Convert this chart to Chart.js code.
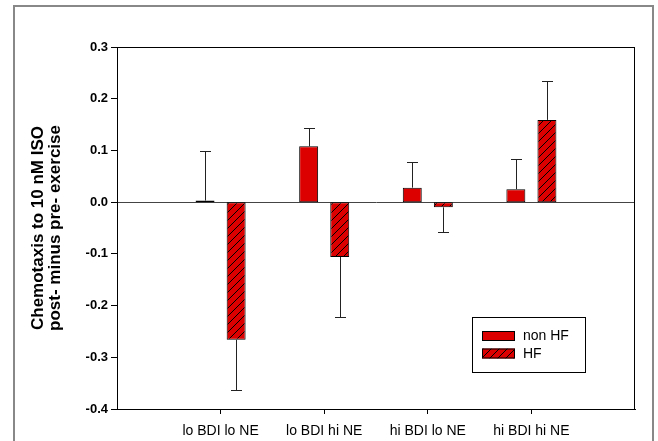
<!DOCTYPE html>
<html>
<head>
<meta charset="utf-8">
<script src="https://cdn.jsdelivr.net/npm/chart.js@4.4.1/dist/chart.umd.min.js"></script>
<style>
  body { margin: 0; background: #fff; }
  canvas { display: block; }
</style>
</head>
<body>
<canvas id="myChart" width="658" height="441"></canvas>
<script>
var groups = ["lo BDI lo NE", "lo BDI hi NE", "hi BDI lo NE", "hi BDI hi NE"];
var nonHF = [0.003, 0.108, 0.028, 0.025];
var nonHFErr = [0.095, 0.036, 0.049, 0.058];
var hf = [-0.266, -0.106, -0.010, 0.159];
var hfErr = [0.098, 0.117, 0.047, 0.076];
var seriesNames = ["non HF", "HF"];
var yTitle = ["Chemotaxis to 10 nM ISO", "post- minus pre- exercise"];

var red = "#dd0000";
var canvas = document.getElementById("myChart");

// diagonal hatch for the HF bars
function makeHatch() {
    var c = document.createElement("canvas");
    c.width = 8;
    c.height = 8;
    var g = c.getContext("2d");
    g.fillStyle = red;
    g.fillRect(0, 0, 8, 8);
    g.strokeStyle = "#000";
    g.lineWidth = 1;
    g.beginPath();
    g.moveTo(-1, 9); g.lineTo(9, -1);
    g.moveTo(-1, 1); g.lineTo(1, -1);
    g.moveTo(7, 9); g.lineTo(9, 7);
    g.stroke();
    return canvas.getContext("2d").createPattern(c, "repeat");
}
var hatch = makeHatch();

// one empty slot each side so the groups sit at 1/5 .. 4/5 of the axis
function pad(arr, fill) { return [fill].concat(arr, [fill]); }

var errorBars = {
    id: "errorBars",
    afterDatasetsDraw: function (chart) {
        var ctx = chart.ctx, y = chart.scales.y;
        [nonHFErr, hfErr].forEach(function (errs, d) {
            var meta = chart.getDatasetMeta(d);
            var vals = chart.data.datasets[d].data;
            errs.forEach(function (e, i) {
                var bar = meta.data[i + 1];
                var v = vals[i + 1];
                var y0 = y.getPixelForValue(v);
                var y1 = Math.round(y.getPixelForValue(v >= 0 ? v + e : v - e)) + 0.5;
                var x = Math.round(bar.x) + 0.5;
                ctx.save();
                ctx.strokeStyle = "#222";
                ctx.lineWidth = 1;
                ctx.beginPath();
                ctx.moveTo(x, y0);
                ctx.lineTo(x, y1);
                ctx.moveTo(x - 5.5, y1);
                ctx.lineTo(x + 5.5, y1);
                ctx.stroke();
                ctx.restore();
            });
        });
    }
};

var frame = {
    id: "frame",
    beforeDraw: function (chart) {
        var ctx = chart.ctx;
        ctx.save();
        ctx.strokeStyle = "#888";
        ctx.lineWidth = 2;
        ctx.strokeRect(14, 6, 639, 450);
        ctx.restore();
    },
    afterDraw: function (chart) {
        var ctx = chart.ctx, a = chart.chartArea;
        ctx.save();
        ctx.strokeStyle = "#000";
        ctx.lineWidth = 1;
        ctx.strokeRect(a.left + 0.5, a.top + 0.5, a.right - a.left - 1, a.bottom - a.top);

        // legend box
        ctx.strokeRect(472.5, 317.5, 113, 55);
        chart.data.datasets.forEach(function (ds, i) {
            var y = 331 + i * 17.5;
            ctx.fillStyle = ds.backgroundColor;
            ctx.fillRect(482, y, 33, 10);
            ctx.strokeRect(482.5, y + 0.5, 32, 9);
            ctx.fillStyle = "#000";
            ctx.font = "14px 'Liberation Sans', Arial, sans-serif";
            ctx.textBaseline = "middle";
            ctx.fillText(ds.label, 523, y + 5.5);
        });
        ctx.restore();
    }
};

new Chart(canvas, {
    type: "bar",
    data: {
        labels: pad(groups, ""),
        datasets: [{
            label: seriesNames[0],
            data: pad(nonHF, null),
            backgroundColor: red,
            borderColor: "#000",
            borderWidth: 1,
            borderSkipped: false
        }, {
            label: seriesNames[1],
            data: pad(hf, null),
            backgroundColor: hatch,
            borderColor: "#000",
            borderWidth: 1,
            borderSkipped: false
        }]
    },
    options: {
        responsive: false,
        animation: false,
        devicePixelRatio: 1,
        layout: {padding: {top: 47, right: 23, bottom: 0, left: 0}},
        categoryPercentage: 0.6,
        barPercentage: 0.61,
        plugins: {
            legend: {display: false},
            tooltip: {enabled: false}
        },
        scales: {
            x: {
                offset: false,
                afterFit: function (s) { s.height = 32; },
                grid: {
                    offset: false,
                    drawOnChartArea: false,
                    tickLength: 5,
                    tickColor: function (c) {
                        return (c.index === 0 || c.index === groups.length + 1) ? "rgba(0,0,0,0)" : "#000";
                    }
                },
                border: {display: true, color: "#000"},
                ticks: {
                    color: "#000",
                    padding: 9,
                    maxRotation: 0,
                    autoSkip: false,
                    font: {size: 14, family: "'Liberation Sans', Arial, sans-serif"}
                }
            },
            y: {
                min: -0.4,
                max: 0.3,
                afterFit: function (s) { s.width = 117; },
                grid: {
                    drawOnChartArea: true,
                    tickLength: 6,
                    tickColor: "#000",
                    color: function (c) {
                        return (c.tick && Math.abs(c.tick.value) < 1e-9) ? "#444" : "rgba(0,0,0,0)";
                    }
                },
                border: {display: true, color: "#000"},
                ticks: {
                    stepSize: 0.1,
                    color: "#000",
                    padding: 3,
                    font: {size: 13, weight: "bold", family: "'Liberation Sans', Arial, sans-serif"},
                    callback: function (v) { return Math.abs(v) < 1e-9 ? "0.0" : v.toFixed(1); }
                },
                title: {
                    display: true,
                    text: yTitle,
                    color: "#000",
                    padding: {top: 30, bottom: 0},
                    font: {size: 17, weight: "bold", lineHeight: 1, family: "'Liberation Sans', Arial, sans-serif"}
                }
            }
        }
    },
    plugins: [errorBars, frame]
});
</script>
</body>
</html>
